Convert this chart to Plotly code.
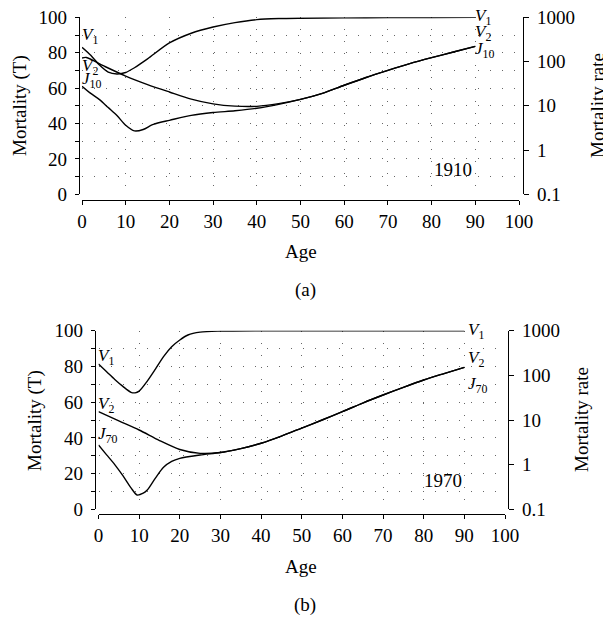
import plotly.graph_objects as go

FONT = "Liberation Serif, Times New Roman, DejaVu Serif, serif"
INK = "black"
GRID = "#666666"

# (a) 1910
AGE_V1_1910 = [0, 2, 4, 6, 8, 10, 12, 15, 20, 25, 30, 35, 40, 45, 50, 60, 70, 80, 90]
V1_1910 = [83, 78.5, 73, 69, 68, 68.8, 71.5, 76.5, 85.5, 91, 94.5, 97, 98.7, 99.3, 99.5, 99.7, 99.8, 99.9, 100]

AGE_V2_1910 = [0, 1, 5, 10, 15, 20, 25, 30, 35, 40, 45, 50, 55, 60, 65, 70, 75, 80, 85, 90]
V2_1910 = [77, 77.3, 72.5, 66.8, 62, 57.8, 53.8, 51.1, 49.8, 49.7, 51.2, 53.6, 57, 61.6, 66, 70, 73.8, 77.2, 80.4, 83.6]

AGE_J_1910 = [0, 2, 4, 6, 8, 10, 12, 14, 16, 18, 20, 25, 30, 35, 40, 45, 50, 55, 60, 65, 70, 75, 80, 85, 90]
J_1910 = [61, 57, 53.5, 49, 44.5, 39, 35.8, 36.6, 39.2, 40.7, 41.8, 44.6, 46.2, 47.2, 48.6, 50.8, 53.6, 57, 61.6, 66, 70, 73.8, 77.2, 80.4, 83.6]

# (b) 1970
AGE_V1_1970 = [0, 2, 4, 6, 8, 9, 10, 12, 14, 16, 18, 20, 22, 25, 30, 40, 50, 60, 70, 80, 90]
V1_1970 = [81.3, 77, 72.7, 68.8, 65.5, 65.2, 66.2, 71.8, 78.5, 85.5, 91, 94.8, 97.6, 99.2, 99.8, 100, 100, 100, 100, 100, 100]

AGE_V2_1970 = [0, 5, 10, 15, 20, 25, 30, 35, 40, 45, 50, 55, 60, 65, 70, 75, 80, 85, 90]
V2_1970 = [54.7, 49.5, 44.4, 38.5, 33.5, 31.3, 31.8, 34, 37, 41, 45.5, 50, 54.7, 59.5, 64, 68.3, 72.4, 76, 79.5]

AGE_J_1970 = [0, 2, 4, 6, 8, 9.5, 11, 12, 14, 16, 18, 20, 25, 30, 35, 40, 45, 50, 55, 60, 65, 70, 75, 80, 85, 90]
J_1970 = [36, 30.5, 25, 18.8, 12, 8, 9, 10.8, 17.5, 23.5, 26.8, 28.5, 30.4, 31.8, 34, 37, 41, 45.5, 50, 54.7, 59.5, 64, 68.3, 72.4, 76, 79.5]

X_TICKS = list(range(0, 101, 10))
T_TICKS = list(range(0, 101, 10))
T_TEXT = [str(v) if v % 20 == 0 else "" for v in T_TICKS]
RATE_TICKS = [0.1, 1, 10, 100, 1000]
RATE_TEXT = ["0.1", "1", "10", "100", "1000"]

# the page body keeps its default 8px margin, so the figure is 8px smaller
PAGE_PAD = 8
W, H = 611 - PAGE_PAD, 617 - PAGE_PAD


def px_x(p):
    return (p - PAGE_PAD) / W


def px_y(p):
    return 1 - (p - PAGE_PAD) / H


def add_curve(fig, ages, values, xa, ya):
    fig.add_scatter(
        x=ages, y=values, xaxis=xa, yaxis=ya, mode="lines",
        line=dict(color=INK, width=1.4, shape="spline", smoothing=0.8),
        hoverinfo="skip", showlegend=False,
    )


def x_axis(dom, pos):
    return dict(
        domain=dom, anchor="free", position=pos, range=[0, 100], automargin=False,
        tickvals=X_TICKS, ticks="outside", ticklen=4, tickwidth=1.2, tickcolor=INK,
        ticklabelstandoff=0, ticklabeloverflow="allow",
        showline=True, linecolor=INK, linewidth=1.4,
        showgrid=True, gridcolor=GRID, gridwidth=1, griddash="1px,11px",
        zeroline=False, tickfont=dict(family=FONT, size=19, color=INK),
    )


def t_axis(dom, pos):
    return dict(
        domain=dom, anchor="free", position=pos, range=[0, 100], automargin=False,
        tickvals=T_TICKS, ticktext=T_TEXT, ticks="outside", ticklen=4, tickwidth=1.2,
        ticklabelstandoff=4, ticklabeloverflow="allow",
        tickcolor=INK, showline=True, linecolor=INK, linewidth=1.4,
        showgrid=True, gridcolor=GRID, gridwidth=1, griddash="1px,11px",
        zeroline=False, tickfont=dict(family=FONT, size=19, color=INK),
    )


def rate_axis(dom, pos, over):
    return dict(
        domain=dom, anchor="free", position=pos, overlaying=over, side="right",
        type="log", range=[-1, 3], tickvals=RATE_TICKS, ticktext=RATE_TEXT,
        automargin=False, ticklabelstandoff=4, ticklabeloverflow="allow",
        ticks="outside", ticklen=5, tickwidth=1.2, tickcolor=INK,
        showline=True, linecolor=INK, linewidth=1.4, showgrid=False, zeroline=False,
        tickfont=dict(family=FONT, size=19, color=INK),
    )


fig = go.Figure()
add_curve(fig, AGE_V1_1910, V1_1910, "x", "y")
add_curve(fig, AGE_V2_1910, V2_1910, "x", "y")
add_curve(fig, AGE_J_1910, J_1910, "x", "y")
add_curve(fig, AGE_V1_1970, V1_1970, "x2", "y3")
add_curve(fig, AGE_V2_1970, V2_1970, "x2", "y3")
add_curve(fig, AGE_J_1970, J_1970, "x2", "y3")
# empty traces so the log axes get drawn
fig.add_scatter(x=[None], y=[None], xaxis="x", yaxis="y2", showlegend=False, hoverinfo="skip")
fig.add_scatter(x=[None], y=[None], xaxis="x2", yaxis="y4", showlegend=False, hoverinfo="skip")

dom_xa = [px_x(82), px_x(519)]
dom_ya = [px_y(194.3), px_y(17.3)]
dom_xb = [px_x(98.5), px_x(505)]
dom_yb = [px_y(509.3), px_y(330.7)]

fig.update_layout(
    width=W, height=H, margin=dict(l=0, r=0, t=0, b=0, autoexpand=False),
    plot_bgcolor="white", paper_bgcolor="white",
    font=dict(family=FONT, size=19, color=INK),
    xaxis=x_axis(dom_xa, px_y(200)),
    yaxis=t_axis(dom_ya, px_x(79)),
    yaxis2=rate_axis(dom_ya, px_x(523), "y"),
    xaxis2=x_axis(dom_xb, px_y(514)),
    yaxis3=t_axis(dom_yb, px_x(95)),
    yaxis4=rate_axis(dom_yb, px_x(508), "y3"),
)


def label(text, x, y, xa, ya, dx=0, dy=0, size=17):
    fig.add_annotation(
        text=text, x=x, y=y, xref=xa, yref=ya, xshift=dx, yshift=dy,
        xanchor="left", yanchor="middle",
        showarrow=False, font=dict(family=FONT, size=size, color=INK),
    )


def paper_text(text, x, y, angle=0, size=19):
    fig.add_annotation(
        text=text, x=px_x(x), y=px_y(y), xref="paper", yref="paper",
        xanchor="center", yanchor="middle", textangle=angle,
        showarrow=False, font=dict(family=FONT, size=size, color=INK),
    )


V1 = "<i>V</i><sub>1</sub>"
V2 = "<i>V</i><sub>2</sub>"

label(V1, 0, 89.5, "x", "y", dx=-2)
label(V2, 0, 72, "x", "y", dx=-2)
label("<i>J</i><sub>10</sub>", 0, 64.5, "x", "y", dx=-2)
label(V1, 89.5, 100, "x", "y")
label(V2, 89.5, 91, "x", "y")
label("<i>J</i><sub>10</sub>", 89.5, 81.5, "x", "y")
label("1910", 80, 14, "x", "y", size=19)

label(V1, 0, 85.5, "x2", "y3", dx=-3)
label(V2, 0, 58.5, "x2", "y3", dx=-3)
label("<i>J</i><sub>70</sub>", 0, 41.5, "x2", "y3", dx=-3)
label(V1, 90.5, 100, "x2", "y3")
label(V2, 90.5, 84, "x2", "y3")
label("<i>J</i><sub>70</sub>", 90.5, 69.5, "x2", "y3")
label("1970", 79.5, 16, "x2", "y3", size=19)

paper_text("Mortality (T)", 20, 106, angle=-90)
paper_text("Mortality rate", 597, 106, angle=-90)
paper_text("Age", 301, 252)
paper_text("(a)", 305, 290)

paper_text("Mortality (T)", 35, 421, angle=-90)
paper_text("Mortality rate", 582, 420, angle=-90)
paper_text("Age", 301, 566)
paper_text("(b)", 305, 605)

fig.write_html("out.html")
